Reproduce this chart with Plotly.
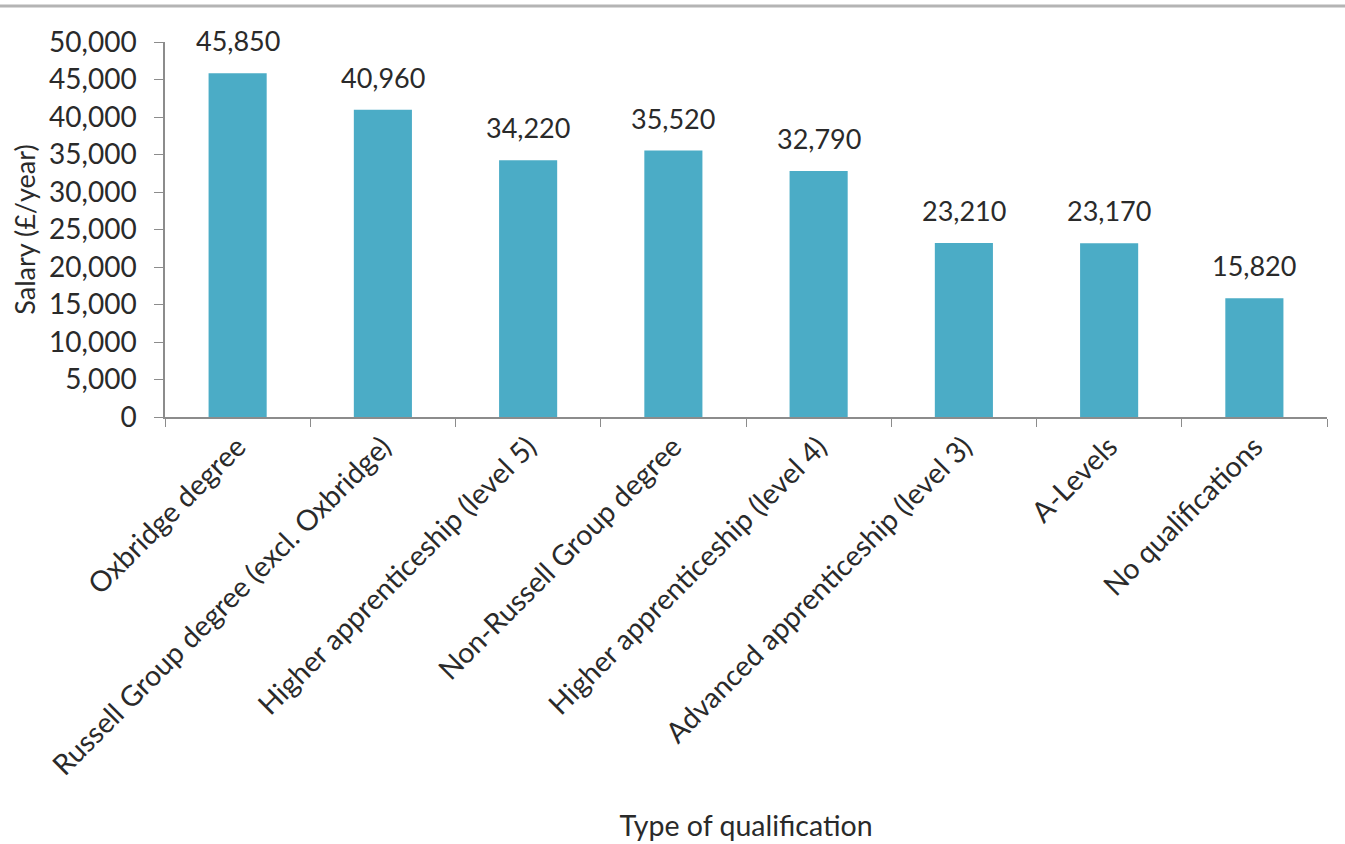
import plotly.graph_objects as go

categories = [
    "Oxbridge degree",
    "Russell Group degree (excl. Oxbridge)",
    "Higher apprenticeship (level 5)",
    "Non-Russell Group degree",
    "Higher apprenticeship (level 4)",
    "Advanced apprenticeship (level 3)",
    "A-Levels",
    "No qualifications",
]
salaries = [45850, 40960, 34220, 35520, 32790, 23210, 23170, 15820]
y_ticks = list(range(0, 50001, 5000))

W, H = 1345, 844
L, R, T, B = 165, 18, 42, 427
plot_h = H - T - B

FONT = "Lato, Open Sans, sans-serif"
TXT = "#2a2a2a"
AX = "#8c8c8c"

fig = go.Figure(
    go.Bar(
        x=categories,
        y=salaries,
        marker=dict(color="#4BACC6", line=dict(width=0)),
        hoverinfo="x+y",
    )
)

annotations = [
    dict(
        x=c,
        y=v,
        xref="x",
        yref="y",
        text=f"{v:,}",
        showarrow=False,
        yanchor="bottom",
        yshift=14,
        font=dict(family=FONT, size=27, color=TXT),
    )
    for c, v in zip(categories, salaries)
]

line_y = 1 + (T - 6) / plot_h

fig.update_layout(
    width=W,
    height=H,
    margin=dict(l=L, r=R, t=T, b=B),
    paper_bgcolor="white",
    plot_bgcolor="white",
    bargap=0.6,
    showlegend=False,
    font=dict(family=FONT, color=TXT),
    annotations=annotations,
    shapes=[
        dict(
            type="line",
            xref="paper",
            yref="paper",
            x0=-1,
            x1=2,
            y0=line_y,
            y1=line_y,
            line=dict(color="#b4b4b4", width=3),
        )
    ],
)

fig.update_xaxes(
    automargin=False,
    tickangle=-45,
    tickfont=dict(family=FONT, size=28.5, color=TXT),
    showline=True,
    linecolor=AX,
    linewidth=1.5,
    ticks="outside",
    tickson="boundaries",
    ticklen=8,
    tickcolor=AX,
    showgrid=False,
    title=dict(text="Type of qualification", font=dict(family=FONT, size=28.5, color=TXT), standoff=36),
)

fig.update_yaxes(
    automargin=False,
    range=[0, 50000],
    tickvals=y_ticks,
    ticktext=[f"{v:,}" for v in y_ticks],
    tickfont=dict(family=FONT, size=28, color=TXT),
    ticklabelstandoff=12,
    showline=True,
    linecolor=AX,
    linewidth=1.5,
    ticks="outside",
    ticklen=9,
    tickcolor=AX,
    showgrid=False,
    zeroline=False,
    title=dict(text="Salary (£/year)", font=dict(family=FONT, size=27, color=TXT), standoff=6),
)

fig.write_html(
    "out.html",
    config={"displayModeBar": False},
    post_script="document.body.style.margin='0';document.body.style.overflow='hidden';",
)
